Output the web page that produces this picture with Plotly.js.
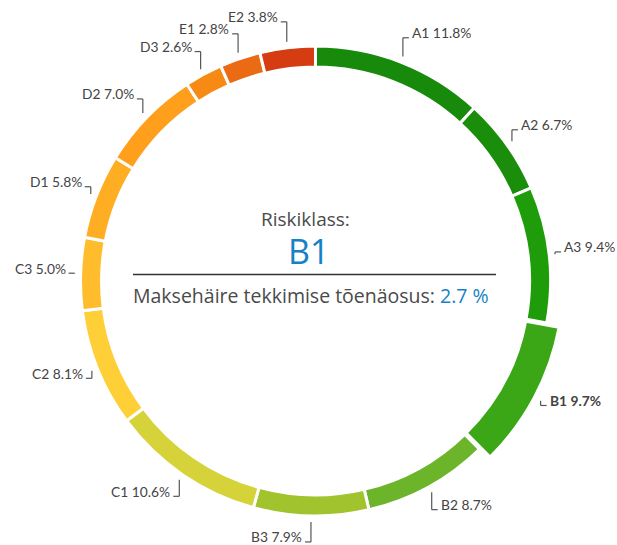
<!DOCTYPE html>
<html><head><meta charset="utf-8">
<script src="https://cdn.plot.ly/plotly-3.0.1.min.js"></script>
<style>html,body{margin:0;padding:0;background:#fff}</style>
</head><body><div id="chart" style="width:617px;height:545px"></div>
<script>
const classes = ['A1','A2','A3','B1','B2','B3','C1','C2','C3','D1','D2','D3','E1','E2'];
const shares = [11.8,6.7,9.4,9.7,8.7,7.9,10.6,8.1,5.0,5.8,7.0,2.6,2.8,3.8];
const sliceColors = ['#188a0b','#1a8e0a','#1f9c0a','#3ca716','#6cb52a','#a0c32e','#d6d33a','#ffcf38','#ffbc2c','#ffae24','#ff9f1c','#f68a14','#eb6a14','#d63c12'];
const selectedClass = 'B1';
const centerTitle = 'Riskiklass:';
const probLabel = 'Maksehäire tekkimise tõenäosus:';
const probValue = '2.7 %';

const W = 617, H = 545, CX = 315.5, CY = 281;
const R_OUT = 235, R_IN = 214, R_SEL_OUT = 249, R_SEL_IN = 213;
const BLUE = '#1581c8', TXT = '#444444';
function dom(r){ return {x:[(CX-r)/W,(CX+r)/W], y:[(H-CY-r)/H,(H-CY+r)/H]}; }
const px2x = x => x / W, px2y = y => 1 - y / H;
const selIdx = classes.indexOf(selectedClass);

const mainTrace = {
  type:'pie', values: shares, labels: classes, sort:false, direction:'clockwise', rotation:0,
  hole: R_IN/R_OUT, domain: dom(R_OUT), textinfo:'none', hoverinfo:'label+value', showlegend:false,
  marker:{colors: sliceColors.map((c,i)=> i===selIdx ? 'rgba(0,0,0,0)' : c), line:{color:'#ffffff', width:3}}
};
const selTrace = {
  type:'pie', values: shares, labels: classes, sort:false, direction:'clockwise', rotation:0,
  hole: R_SEL_IN/R_SEL_OUT, domain: dom(R_SEL_OUT), textinfo:'none', hoverinfo:'skip', showlegend:false,
  marker:{colors: sliceColors.map((c,i)=> i===selIdx ? c : 'rgba(0,0,0,0)'),
          line:{color: classes.map((c,i)=> i===selIdx ? '#ffffff' : 'rgba(0,0,0,0)'), width:5}}
};

const total = shares.reduce((a,b)=>a+b,0);
const annotations = [], shapes = [];
let cum = 0;
shares.forEach((v,i)=>{
  const mid = (cum + v/2)/total*2*Math.PI; cum += v;
  const s = Math.sin(mid), c = Math.cos(mid);
  const isSel = i===selIdx;
  const r0 = (isSel ? R_SEL_OUT : R_OUT) + 6;
  const rL = isSel ? 265 : 261;
  const px = CX + r0*s, py = CY - r0*c;
  const cy = CY - rL*c;
  const dir = s >= 0 ? 1 : -1;
  const hx = px + dir*6;
  const lineStyle = {color:'#555555', width:1.2};
  shapes.push({type:'line', xref:'paper', yref:'paper', x0:px2x(px), y0:px2y(py), x1:px2x(px), y1:px2y(cy), line:lineStyle});
  shapes.push({type:'line', xref:'paper', yref:'paper', x0:px2x(px), y0:px2y(cy), x1:px2x(hx), y1:px2y(cy), line:lineStyle});
  const txt = classes[i] + ' ' + v.toFixed(1) + '%';
  annotations.push({xref:'paper', yref:'paper', x:px2x(hx + dir*1), y:px2y(cy-5), xanchor: dir>0?'left':'right', yanchor:'middle',
    showarrow:false, text: isSel ? '<b>'+txt+'</b>' : txt, font:{family:'Lato, sans-serif', size:13.8, color:TXT}});
});

// center block
annotations.push({xref:'paper', yref:'paper', x:px2x(305), y:px2y(219), xanchor:'center', yanchor:'middle', showarrow:false,
  text: centerTitle, font:{family:'Open Sans, sans-serif', size:19, color:'#4a4a4a'}});
annotations.push({xref:'paper', yref:'paper', x:px2x(308), y:px2y(251), xanchor:'center', yanchor:'middle', showarrow:false,
  text: selectedClass, font:{family:'Open Sans, sans-serif', size:34, color:BLUE}});
annotations.push({xref:'paper', yref:'paper', x:px2x(311), y:px2y(295), xanchor:'center', yanchor:'middle', showarrow:false,
  text: probLabel + ' <span style="color:'+BLUE+'">' + probValue + '</span>', font:{family:'Open Sans, sans-serif', size:19.5, color:'#4a4a4a'}});
shapes.push({type:'line', xref:'paper', yref:'paper', x0:px2x(133), y0:px2y(274.5), x1:px2x(496), y1:px2y(274.5), line:{color:'#333333', width:1.5}});

const layout = {width:W, height:H, margin:{l:0,r:0,t:0,b:0}, paper_bgcolor:'#ffffff', plot_bgcolor:'#ffffff',
  showlegend:false, annotations, shapes};
Plotly.newPlot('chart', [mainTrace, selTrace], layout, {displayModeBar:false, staticPlot:true});
</script></body></html>
